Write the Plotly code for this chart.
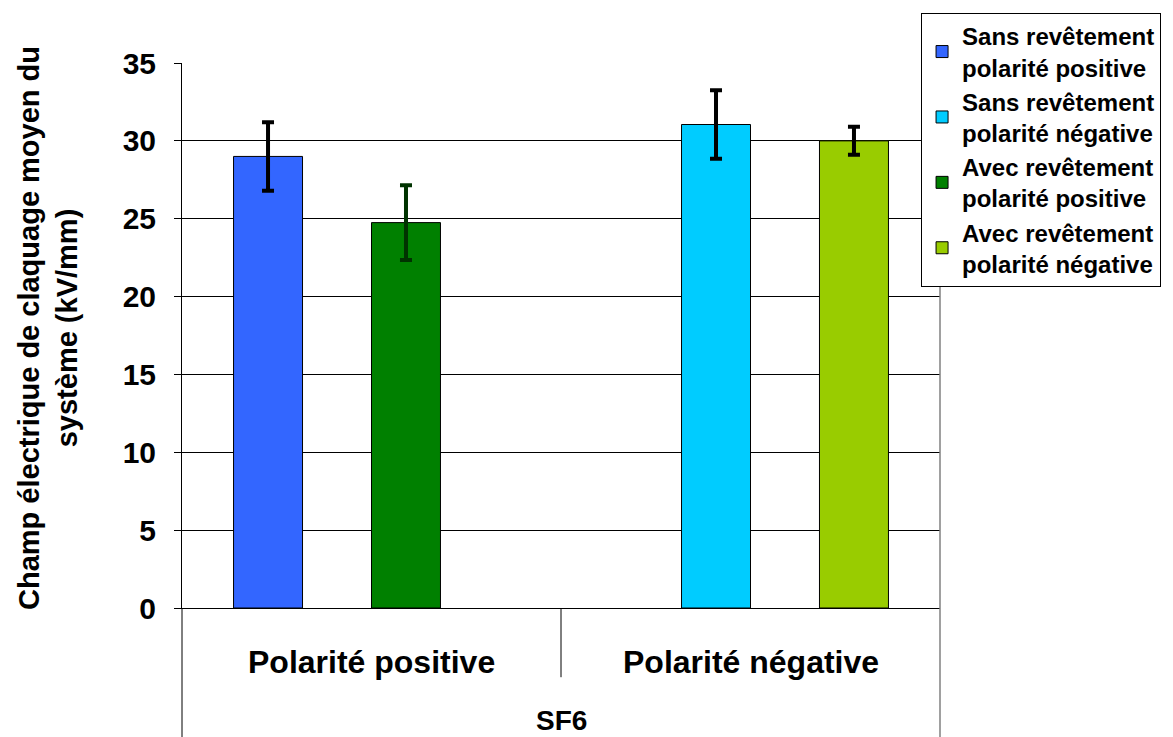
import plotly.graph_objects as go

# Champ de claquage moyen, SF6 (kV/mm)
categories = ["Polarité positive", "Polarité négative"]
series_names = [
    "Sans revêtement<br>polarité positive",
    "Sans revêtement<br>polarité négative",
    "Avec revêtement<br>polarité positive",
    "Avec revêtement<br>polarité négative",
]
sans_pos = [29.0, None]
sans_neg = [None, 31.05]
avec_pos = [24.75, None]
avec_neg = [None, 30.0]
err_sans_pos = [2.2, 0]
err_sans_neg = [0, 2.2]
err_avec_pos = [2.4, 0]
err_avec_neg = [0, 0.9]
group_label = "SF6"
y_ticks = [0, 5, 10, 15, 20, 25, 30, 35]

colors = ["#3366FF", "#00CCFF", "#008000", "#99CC00"]
err_colors = ["black", "black", "#003300", "black"]
FONT = "Arial, Liberation Sans, sans-serif"

fig = go.Figure()
for name, vals, errs, col, ecol in zip(
    series_names,
    [sans_pos, sans_neg, avec_pos, avec_neg],
    [err_sans_pos, err_sans_neg, err_avec_pos, err_avec_neg],
    colors, err_colors,
):
    fig.add_trace(go.Bar(
        x=categories, y=vals, name=name,
        marker=dict(color=col, line=dict(color="black", width=1)),
        error_y=dict(type="data", array=errs, visible=True,
                     color=ecol, thickness=4, width=6),
    ))

# category dividers below the axis (Excel style multi-level axis)
line_k = dict(color="black", width=1)
fig.add_shape(type="line", xref="x", yref="paper", x0=0.5, x1=0.5, y0=0, y1=-0.127, line=line_k)
fig.add_shape(type="line", xref="paper", yref="paper", x0=0, x1=0, y0=0, y1=-0.26, line=line_k)
fig.add_shape(type="line", xref="paper", yref="paper", x0=1, x1=1, y0=1, y1=-0.26,
              line=dict(color="#808080", width=1.5))

for c in categories:
    fig.add_annotation(x=c, xref="x", y=-0.099, yref="paper", text=c, showarrow=False,
                       font=dict(family=FONT, size=32, color="black", weight="bold"),
                       xanchor="center", yanchor="middle")
fig.add_annotation(x=0.5, xref="paper", y=-0.207, yref="paper", text=group_label,
                   showarrow=False, xanchor="center", yanchor="middle",
                   font=dict(family=FONT, size=28, color="black", weight="bold"))
fig.add_annotation(x=-0.176, xref="paper", y=0.513, yref="paper",
                   text="Champ électrique de claquage moyen du<br>système (kV/mm)",
                   textangle=-90, showarrow=False, xanchor="center", yanchor="middle",
                   font=dict(family=FONT, size=29, color="black", weight="bold"))

# page body has an 8px margin, so the figure is 8px smaller than the window
fig.update_layout(
    width=1165, height=729,
    margin=dict(l=174, r=233, t=55, b=129, autoexpand=False),
    paper_bgcolor="white", plot_bgcolor="white",
    barmode="group", bargap=0.272, bargroupgap=0,
    font=dict(family=FONT, color="black"),
    showlegend=True,
    legend=dict(
        x=0.975, xanchor="left", y=1.092, yanchor="top",
        bgcolor="white", bordercolor="black", borderwidth=1,
        font=dict(family=FONT, size=24, color="black", weight="bold"),
        traceorder="normal",
    ),
    xaxis=dict(range=[-0.5, 1.5], showticklabels=False, ticks="",
               showline=True, linecolor="black", linewidth=1, showgrid=False),
    yaxis=dict(range=[0, 35], tickvals=y_ticks, showgrid=True, gridcolor="black",
               gridwidth=1, showline=True, linecolor="black", linewidth=1,
               ticks="outside", ticklen=7, tickcolor="black", zeroline=False,
               ticklabelstandoff=12,
               tickfont=dict(family=FONT, size=30, color="black", weight="bold")),
)

fig.write_html("out.html")
